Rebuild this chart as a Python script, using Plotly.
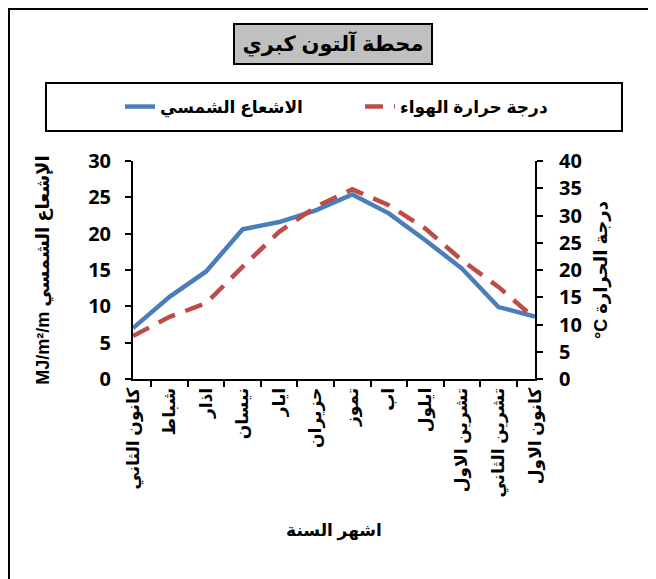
import plotly.graph_objects as go

months = ["كانون الثاني", "شباط", "اذار", "نيسان", "ايار", "حزيران",
          "تموز", "اب", "ايلول", "تشرين الاول", "تشرين الثاني", "كانون الاول"]
radiation = [7.0, 11.3, 14.8, 20.6, 21.6, 23.2, 25.4, 22.8, 19.1, 15.2, 9.9, 8.6]
temperature = [7.9, 11.4, 13.9, 20.6, 27.0, 31.6, 34.8, 31.9, 27.6, 21.8, 16.9, 11.1]

BLUE = "#4a7ebb"
RED = "#be4b48"
FONT = "Liberation Sans, DejaVu Sans"
NUMFONT = "Open Sans"

OFF = 8  # page offset of the plot div (body margin)
W, H = 656 - OFF, 579 - OFF
L, R, T, B = 133 - OFF, 535 - OFF, 161 - OFF, 379 - OFF


def px(x):
    # page x coordinate -> paper fraction
    return (x - OFF - L) / (R - L)


def py(y):
    # page y coordinate -> paper fraction
    return (B - (y - OFF)) / (B - T)


fig = go.Figure()
fig.add_trace(go.Scatter(
    x=months, y=radiation, name="الاشعاع الشمسي", mode="lines",
    line=dict(color=BLUE, width=4.5), yaxis="y"))
fig.add_trace(go.Scatter(
    x=months, y=temperature, name="درجة حرارة الهواء", mode="lines",
    line=dict(color=RED, width=4.5, dash="18px,11px"), yaxis="y2"))

fig.update_layout(
    width=W, height=H,
    margin=dict(l=L, r=W - R, t=T, b=H - B, autoexpand=False),
    paper_bgcolor="white", plot_bgcolor="white",
    font=dict(family=FONT, color="black", weight="bold"),
    showlegend=True,
    legend=dict(orientation="h", x=px(120), xanchor="left", y=py(107), yanchor="middle",
                entrywidth=195, font=dict(size=17, family=FONT, weight="bold"),
                bgcolor="rgba(0,0,0,0)", borderwidth=0),
    xaxis=dict(
        type="category", showline=True, linecolor="black", linewidth=2,
        ticks="outside", ticklen=6, tickcolor="black", tickwidth=1.5,
        tickson="boundaries", tickangle=-90, showgrid=False, zeroline=False,
        tickfont=dict(size=17, family=FONT, weight="bold"),
        title=dict(text="اشهر السنة", font=dict(size=17, family=FONT, weight="bold"), standoff=28),
        automargin=False),
    yaxis=dict(
        range=[0, 30], dtick=5, showline=True, linecolor="black", linewidth=2,
        ticks="outside", ticklen=6, tickcolor="black", tickwidth=1.5,
        ticklabelstandoff=10,
        showgrid=False, zeroline=False,
        tickfont=dict(size=20, family=NUMFONT, weight="bold"),
        title=dict(text="MJ/m²/m الإشعاع الشمسي", font=dict(size=18, family=FONT, weight="bold"), standoff=34),
        automargin=False),
    yaxis2=dict(
        range=[0, 40], dtick=5, overlaying="y", side="right",
        showline=True, linecolor="black", linewidth=2,
        ticks="outside", ticklen=6, tickcolor="black", tickwidth=1.5,
        ticklabelstandoff=12,
        showgrid=False, zeroline=False,
        tickfont=dict(size=20, family=NUMFONT, weight="bold"),
        title=dict(text="°C درجة الحرارة", font=dict(size=18, family=FONT, weight="bold"), standoff=14),
        automargin=False),
    shapes=[
        # outer chart border (left and top visible)
        dict(type="line", xref="paper", yref="paper", x0=px(9), x1=px(9), y0=py(700), y1=py(8),
             line=dict(color="black", width=2)),
        dict(type="line", xref="paper", yref="paper", x0=px(9), x1=px(760), y0=py(9), y1=py(9),
             line=dict(color="black", width=2)),
        # legend box
        dict(type="rect", xref="paper", yref="paper", x0=px(46), x1=px(622), y0=py(131), y1=py(83),
             line=dict(color="black", width=2), fillcolor="rgba(0,0,0,0)"),
    ],
    annotations=[
        dict(text="محطة آلتون كبري", xref="paper", yref="paper", x=px(333), y=py(44),
             xanchor="center", yanchor="middle", showarrow=False,
             font=dict(size=21, family=FONT, weight="bold", color="black"),
             bgcolor="#c0c0c0", bordercolor="black", borderwidth=2, borderpad=2,
             width=192, height=34),
    ],
)

fig.write_html("out.html")
